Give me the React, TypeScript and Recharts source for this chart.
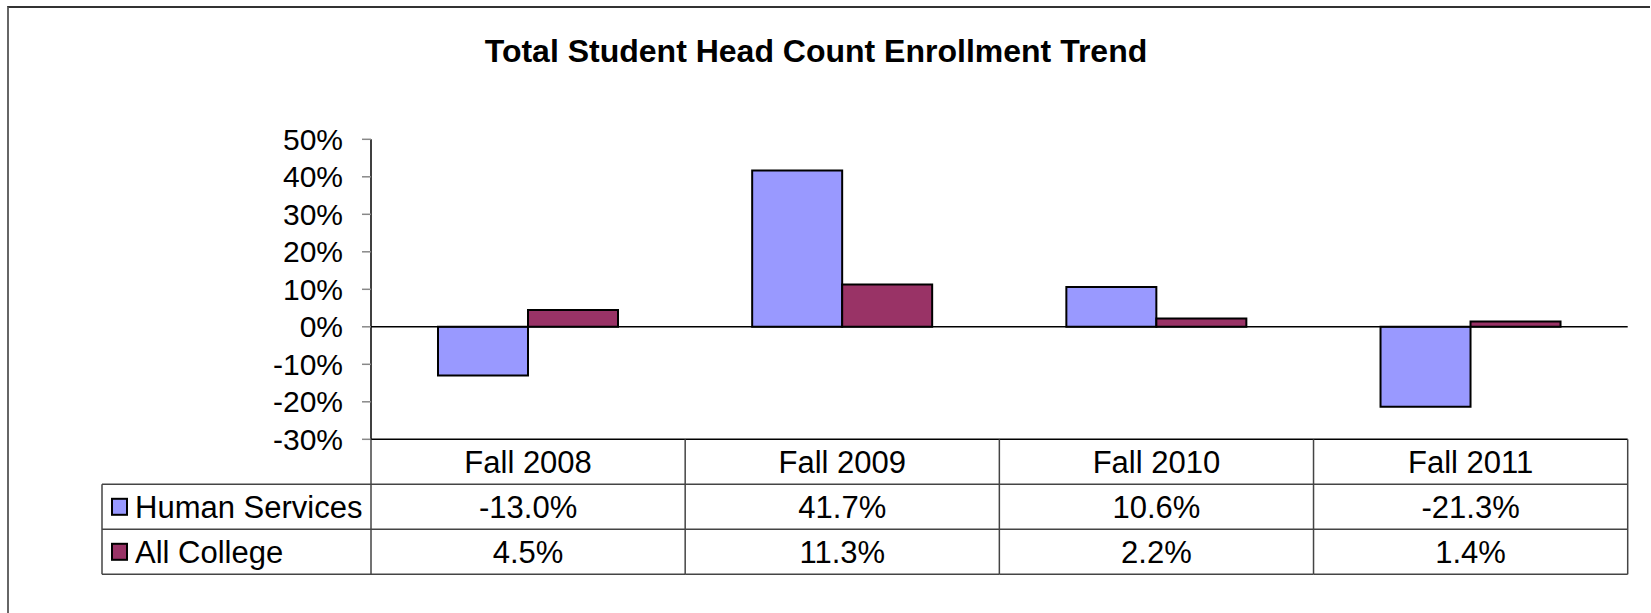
import React from 'react';
import { BarChart, Bar, XAxis, YAxis, ReferenceLine } from 'recharts';

const categories = ['Fall 2008', 'Fall 2009', 'Fall 2010', 'Fall 2011'];
const humanServices = [-13.0, 41.7, 10.6, -21.3];
const allCollege = [4.5, 11.3, 2.2, 1.4];
const yTicks = [-30, -20, -10, 0, 10, 20, 30, 40, 50];

const seriesNames = ['Human Services', 'All College'];
const seriesColors = ['#9999FF', '#993366'];

const data = categories.map((name, i) => ({
  name,
  hs: humanServices[i],
  ac: allCollege[i],
}));

const FONT = '"Liberation Sans", Arial, sans-serif';
const ROW_H = 45;
const LEGEND_W = 269;
const LINE = '#444';
const TXT = 31;
const BASE = 11; // baseline offset from row centre

const fmt = (v: number) => `${v.toFixed(1)}%`;

// data table under the plot, drawn from the category axis ticks
const TableTick = (props: any) => {
  const { x, y, payload, width, visibleTicksCount } = props;
  const half = payload.offset ? payload.offset : width / visibleTicksCount / 2;
  const i = payload.index;
  const left = x - half;
  const right = x + half;
  const first = i === 0;
  const last = i === visibleTicksCount - 1;
  const rowLeft = first ? left - LEGEND_W : left;
  const values = [humanServices[i], allCollege[i]];

  return (
    <g>
      {[1, 2, 3].map((r) => (
        <line key={r} x1={rowLeft} x2={right} y1={y + r * ROW_H} y2={y + r * ROW_H} stroke={LINE} strokeWidth={1.5} />
      ))}
      <line x1={left} x2={left} y1={y} y2={y + 3 * ROW_H} stroke={LINE} strokeWidth={1.5} />
      {last && <line x1={right} x2={right} y1={y} y2={y + 3 * ROW_H} stroke={LINE} strokeWidth={1.5} />}
      {first && (
        <line x1={rowLeft} x2={rowLeft} y1={y + ROW_H} y2={y + 3 * ROW_H} stroke={LINE} strokeWidth={1.5} />
      )}
      <text x={x} y={y + ROW_H / 2 + BASE} textAnchor="middle" fontSize={TXT} fontFamily={FONT} fill="#000">
        {payload.value}
      </text>
      {values.map((v, r) => (
        <text key={r} x={x} y={y + ROW_H * (r + 1.5) + BASE} textAnchor="middle" fontSize={TXT} fontFamily={FONT} fill="#000">
          {fmt(v)}
        </text>
      ))}
      {first &&
        seriesNames.map((s, r) => (
          <g key={s}>
            <rect x={rowLeft + 10} y={y + ROW_H * (r + 1.5) - 8} width={15} height={16} fill={seriesColors[r]} stroke="#000" strokeWidth={2} />
            <text x={rowLeft + 33} y={y + ROW_H * (r + 1.5) + BASE} fontSize={TXT} fontFamily={FONT} fill="#000">
              {s}
            </text>
          </g>
        ))}
    </g>
  );
};

export default function App() {
  return (
    <div style={{ position: 'absolute', left: 0, top: 0, width: 1651, height: 613, background: '#fff', overflow: 'hidden' }}>
      <div
        style={{
          position: 'absolute',
          left: 7,
          top: 6,
          width: 1641,
          height: 620,
          borderTop: '2px solid #333',
          borderLeft: '2px solid #666',
        }}
      />
      <svg style={{ position: 'absolute', left: 0, top: 0 }} width={1651} height={100}>
        <text x={816} y={62} textAnchor="middle" fontFamily={FONT} fontWeight="bold" fontSize={32} fill="#000">
          Total Student Head Count Enrollment Trend
        </text>
      </svg>
      <div style={{ position: 'absolute', left: 0, top: 0 }}>
        <BarChart
          width={1651}
          height={613}
          data={data}
          barSize={90}
          barGap={0}
          margin={{ top: 139.3, right: 23.3, bottom: 37.7, left: 0 }}
        >
          <YAxis
            width={371}
            domain={[-30, 50]}
            ticks={yTicks}
            interval={0}
            allowDataOverflow
            tickFormatter={(v: number) => `${v}%`}
            tick={{ fontSize: 30, fontFamily: FONT, fill: '#000' }}
            tickSize={9}
            tickMargin={19}
            tickLine={{ stroke: '#888', strokeWidth: 1.5 }}
            axisLine={{ stroke: '#000', strokeWidth: 1.5 }}
          />
          <XAxis
            dataKey="name"
            height={136}
            interval={0}
            tickSize={0}
            tickMargin={0}
            tickLine={false}
            axisLine={{ stroke: '#000', strokeWidth: 1.5 }}
            tick={<TableTick />}
          />
          <ReferenceLine y={0} stroke="#000" strokeWidth={1.5} />
          <Bar dataKey="hs" name={seriesNames[0]} fill={seriesColors[0]} stroke="#000" strokeWidth={2} isAnimationActive={false} />
          <Bar dataKey="ac" name={seriesNames[1]} fill={seriesColors[1]} stroke="#000" strokeWidth={2} isAnimationActive={false} />
        </BarChart>
      </div>
    </div>
  );
}
